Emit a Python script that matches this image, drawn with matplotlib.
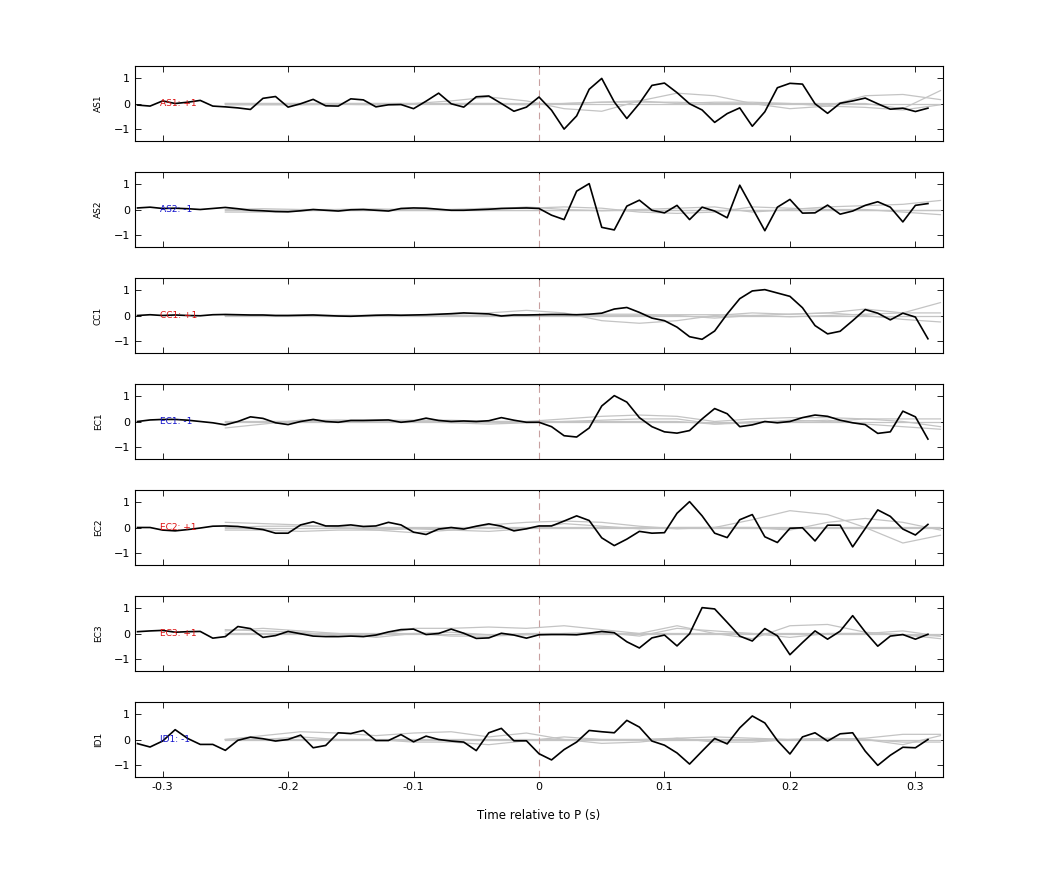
import numpy as np
import matplotlib
matplotlib.use("Agg")
import matplotlib.pyplot as plt

names = ["AS1", "AS2", "CC1", "EC1", "EC2", "EC3", "ID1"]
polarity = ["+1", "-1", "+1", "-1", "+1", "+1", "-1"]
t_black = np.round(np.arange(-0.32, 0.315, 0.01), 2)
t_grey = np.round(np.arange(-0.25, 0.325, 0.03), 2)

as1 = [-0.06,-0.1,0.1,0.0,0.05,0.12,-0.1,-0.13,-0.17,-0.23,0.2,0.27,-0.14,-0.01,0.16,-0.09,-0.1,0.18,0.14,-0.13,
       -0.05,-0.04,-0.2,0.09,0.4,-0.01,-0.14,0.26,0.29,0.0,-0.3,-0.14,0.25,-0.26,-0.99,-0.48,0.55,0.97,0.06,-0.58,
       0.0,0.7,0.79,0.42,-0.01,-0.25,-0.73,-0.39,-0.17,-0.88,-0.32,0.61,0.78,0.75,-0.01,-0.38,0.01,0.1,0.21,-0.01,
       -0.22,-0.18,-0.31,-0.18]
as2 = [0.06,0.09,0.04,0.05,0.03,0.0,0.04,0.08,0.03,-0.03,-0.05,-0.08,-0.09,-0.05,0.0,-0.03,-0.06,-0.01,0.0,-0.03,
       -0.06,0.04,0.06,0.05,0.01,-0.03,-0.03,-0.01,0.01,0.04,0.05,0.06,0.04,-0.22,-0.39,0.71,1.0,-0.69,-0.79,0.13,
       0.36,-0.03,-0.13,0.16,-0.39,0.09,-0.06,-0.32,0.94,0.06,-0.82,0.09,0.39,-0.14,-0.13,0.17,-0.18,-0.06,0.16,0.3,
       0.09,-0.48,0.16,0.23]
cc1 = [0.0,0.03,0.0,0.02,0.0,-0.01,0.03,0.04,0.03,0.02,0.02,0.0,0.0,0.01,0.02,0.0,-0.02,-0.03,-0.01,0.01,
       0.02,0.01,0.02,0.03,0.05,0.07,0.1,0.08,0.06,-0.02,0.02,0.02,0.03,0.04,0.04,0.03,0.05,0.09,0.25,0.31,
       0.12,-0.1,-0.2,-0.45,-0.82,-0.92,-0.6,0.06,0.65,0.95,1.0,0.87,0.74,0.3,-0.39,-0.71,-0.61,-0.2,0.23,0.09,
       -0.17,0.09,-0.06,-0.9]
ec1 = [0.0,0.06,0.08,0.08,0.05,0.0,-0.05,-0.13,0.0,0.18,0.12,-0.05,-0.12,0.0,0.08,0.0,-0.03,0.04,0.04,0.05,
       0.06,-0.03,0.02,0.13,0.04,0.0,0.02,0.0,0.03,0.15,0.05,-0.03,-0.03,-0.2,-0.55,-0.6,-0.25,0.6,1.0,0.75,
       0.15,-0.2,-0.4,-0.45,-0.35,0.1,0.5,0.3,-0.2,-0.13,0.0,-0.05,0.0,0.15,0.25,0.2,0.05,-0.05,-0.12,-0.46,
       -0.4,0.4,0.18,-0.68]
ec2 = [0.0,0.0,-0.1,-0.13,-0.08,-0.02,0.05,0.06,0.04,-0.02,-0.08,-0.22,-0.22,0.1,0.22,0.06,0.06,0.1,0.04,0.06,
       0.2,0.1,-0.18,-0.27,-0.06,0.0,-0.06,0.05,0.14,0.05,-0.13,-0.05,0.06,0.06,0.25,0.45,0.27,-0.4,-0.7,-0.45,
       -0.15,-0.22,-0.2,0.55,1.0,0.45,-0.22,-0.39,0.3,0.5,-0.36,-0.58,-0.03,-0.01,-0.52,0.09,0.09,-0.75,-0.04,0.68,
       0.43,-0.06,-0.29,0.12]
ec3 = [0.07,0.1,0.12,0.05,0.07,0.08,-0.18,-0.12,0.27,0.19,-0.15,-0.08,0.08,-0.01,-0.1,-0.12,-0.12,-0.1,-0.12,-0.06,
       0.06,0.15,0.17,-0.04,0.0,0.17,0.01,-0.19,-0.17,0.01,-0.06,-0.18,-0.05,-0.04,-0.04,-0.05,0.01,0.08,0.03,-0.32,
       -0.56,-0.17,-0.06,-0.48,-0.01,1.0,0.95,0.43,-0.1,-0.29,0.19,-0.09,-0.82,-0.35,0.1,-0.22,0.09,0.69,0.06,-0.49,
       -0.1,-0.04,-0.22,-0.03]
id1 = [-0.16,-0.29,-0.06,0.38,0.04,-0.19,-0.19,-0.42,-0.03,0.09,0.03,-0.06,0.0,0.17,-0.32,-0.23,0.26,0.23,0.35,-0.04,
       -0.04,0.19,-0.09,0.13,0.0,-0.06,-0.1,-0.43,0.26,0.43,-0.05,-0.05,-0.55,-0.79,-0.39,-0.1,0.35,0.3,0.26,0.74,
       0.48,-0.06,-0.22,-0.52,-0.95,-0.45,0.04,-0.17,0.45,0.91,0.64,-0.04,-0.56,0.1,0.26,-0.06,0.22,0.26,-0.45,-1.0,
       -0.61,-0.3,-0.32,0.0]
black = [as1, as2, cc1, ec1, ec2, ec3, id1]

grey_as1 = [[0,0,0,0,0,0,0.1,0.25,0.1,-0.2,-0.3,0.1,0.4,0.3,0,-0.2,-0.1,0.3,0.35,0.15],
            [0,0,0,0,0,0,0,0,0,0,0.05,0.05,0.05,0,0,0,0,0,-0.2,0.5],
            [-0.05,-0.05,-0.05,-0.03,-0.05,-0.03,0,0,-0.05,0,0.05,0.1,0,0.05,0.05,0,-0.1,-0.15,-0.25,-0.05]]
grey_as2 = [[-0.1,-0.1,-0.05,0,0,-0.03,0,0,0.1,0,-0.05,0,0.05,0.1,-0.1,0,0.1,0.15,0.2,0.35],
            [0,0.03,0,0,0.02,0,0,0.05,0.05,0.1,0.05,-0.1,-0.15,-0.1,0.1,0.05,0,0,-0.1,-0.2],
            [0]*20]
grey_cc1 = [[0,0,0,0,0,0,0.05,0.1,0.2,0.1,-0.2,-0.3,-0.2,0,0.1,0.05,0.1,0.25,0.1,0.5],
            [0,0,0,0,0,0,0,0,0,0,0.05,0.05,0,-0.1,0,0.05,0.1,0,-0.15,-0.25],
            [0,0,0,0,0,0,0,0,0,0,0,0,0.03,0.03,0,-0.05,0,0.05,0.1,0.1]]
grey_ec1 = [[-0.25,-0.1,0.05,0.05,0.05,0.05,0.05,0.0,0,0.1,0.2,0.25,0.2,0,0.1,0.15,0.15,0.1,0.0,-0.2],
            [0,0,0,0,0,0,0,0,0,0,0.05,0.1,0.1,-0.1,-0.05,0.05,0,0.1,0.1,0.1],
            [-0.05,0,0,0.05,0,0,-0.05,-0.1,-0.05,0,0,0,0,-0.1,0,0,0.05,-0.1,-0.2,-0.3]]
grey_ec2 = [[0.2,0.15,0.1,0,-0.1,-0.2,-0.1,0.1,0.2,0.25,0.2,0.05,-0.05,0,0.3,0.65,0.5,0.0,-0.6,-0.3],
            [-0.1,-0.1,-0.15,-0.1,-0.1,-0.05,-0.1,-0.15,-0.05,0.15,0.05,-0.05,0,0,0,-0.1,0.2,0.35,0.2,-0.1],
            [0,0.05,0.05,0.03,0,0,0,0,0,0,0,0,0,0,0,0,0,0,0,0]]
grey_ec3 = [[0.15,0.1,0.05,-0.1,-0.1,0.2,0.2,0.25,0.2,0.3,0.15,0,0.3,0,-0.2,0.3,0.35,0.05,-0.05,-0.2],
            [0.1,0.2,0.1,0,-0.15,0,0.05,-0.05,0.0,0,0.05,-0.1,0.2,0.1,0,-0.15,0,0,0.1,-0.1],
            [0,0,0,0,0,0,-0.1,-0.1,-0.05,0,0,0,0,0,0,0,0,0,-0.05,-0.1]]
grey_id1 = [[0,0.15,0.3,0.25,0.15,0.25,0.3,0.1,0.25,0,-0.15,-0.1,0.05,-0.1,-0.1,0.0,0.05,0,-0.2,0.15],
            [0,0,0.1,0,0,-0.1,-0.1,-0.2,-0.05,0.1,0,0,0.05,0.1,0.05,0,0,0.05,0.2,0.2],
            [0,0,0,0,0,0,0,0,0,0,0,0,0,0,0,0,0,0,-0.1,-0.1]]
greys = [grey_as1, grey_as2, grey_cc1, grey_ec1, grey_ec2, grey_ec3, grey_id1]

fig = plt.figure(figsize=(10.42, 8.75), dpi=100)
left, width, h = 135/1042, 808/1042, 75/875
for i in range(7):
    top_px = 66 + 106*i
    ax = fig.add_axes([left, 1 - (top_px + 75)/875, width, h])
    for g in greys[i]:
        ax.plot(t_grey, g, color="#c4c4c4", lw=0.9)
    ax.plot(t_grey, np.zeros_like(t_grey), color="#c4c4c4", lw=0.9)
    ax.axvline(0, color="#c8a0a0", lw=0.8, ls=(0, (6, 4)))
    ax.plot(t_black, black[i], color="black", lw=1.2)
    col = "#dd1111" if polarity[i] == "+1" else "#1111cc"
    ax.text(-0.302, 0, f"{names[i]}: {polarity[i]}", color=col, fontsize=6.5, va="center", ha="left")
    ax.set_xlim(-0.322, 0.322)
    ax.set_ylim(-1.45, 1.45)
    ax.set_yticks([-1, 0, 1])
    ax.set_xticks([-0.3, -0.2, -0.1, 0, 0.1, 0.2, 0.3])
    ax.tick_params(direction="in", top=True, right=True, labelsize=8, length=4, width=0.6)
    for s in ax.spines.values():
        s.set_linewidth(0.8)
    ax.set_ylabel(names[i], fontsize=6.5, labelpad=8)
    if i < 6:
        ax.set_xticklabels([])
    else:
        ax.set_xticklabels(["-0.3", "-0.2", "-0.1", "0", "0.1", "0.2", "0.3"])
        ax.set_xlabel("Time relative to P (s)", fontsize=8.5, labelpad=12)
fig.savefig("out.png", dpi=100)
